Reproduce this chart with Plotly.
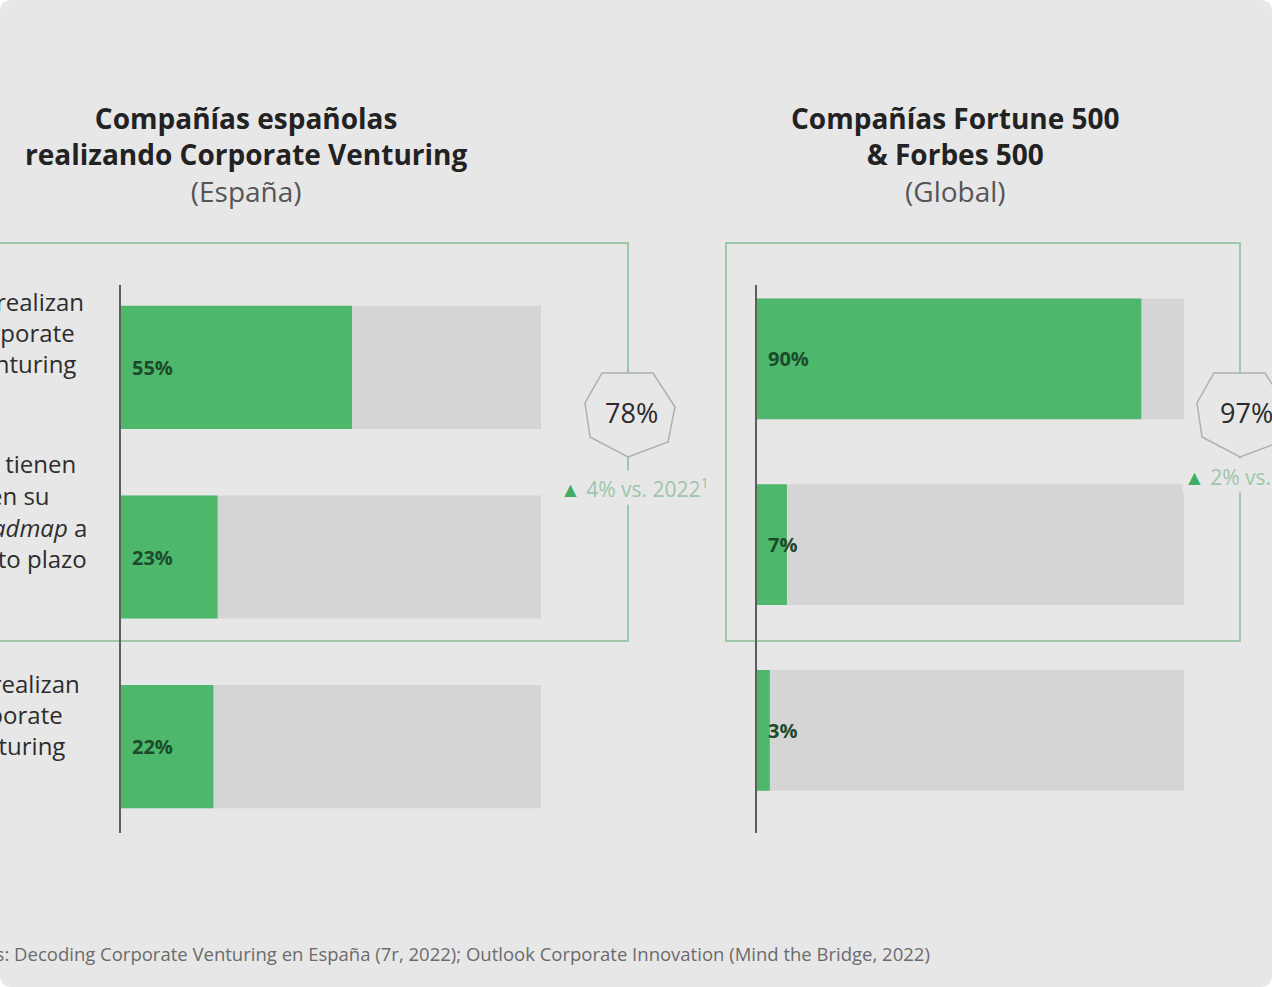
import plotly.graph_objects as go

W, H = 1272, 987

# ---------------- data ----------------
categories_es = ["Ya realizan Corporate Venturing",
                 "Lo tienen en su roadmap a corto plazo",
                 "No realizan Corporate Venturing"]
values_es = [55, 23, 22]
total_es = 78
delta_es = 4

categories_gl = ["Realizan CV", "Roadmap CV", "No realizan CV"]
values_gl = [90, 7, 3]
total_gl = 97
delta_gl = 2

full_scale = [100, 100, 100]

label_lines_es = [
    ["Ya realizan", "Corporate", "Venturing"],
    ["Lo tienen", "en su", "<i>roadmap</i> a", "corto plazo"],
    ["No realizan", "Corporate", "Venturing"],
]

title_es = ["Compañías españolas", "realizando Corporate Venturing", "(España)"]
title_gl = ["Compañías Fortune 500", "& Forbes 500", "(Global)"]
source_text = "Fuentes: Decoding Corporate Venturing en España (7r, 2022); Outlook Corporate Innovation (Mind the Bridge, 2022)"

# ---------------- style ----------------
BG = "#e7e7e7"
GREEN = "#4db86b"
GREY_BAR = "#d5d5d5"
AXIS = "#5e5e5e"
BOX = "#9fc8aa"
FONT = "Open Sans"


def px(x, y):
    return f"{x / W:.5f},{1 - y / H:.5f}"


def fx(x):
    return x / W


def fy(y):
    return 1 - y / H


fig = go.Figure()

# background bars + value bars
for cats, vals, xa, ya in [(categories_es, values_es, "x", "y"),
                           (categories_gl, values_gl, "x2", "y2")]:
    fig.add_trace(go.Bar(x=full_scale, y=cats, orientation="h", marker_color=GREY_BAR,
                         marker_line_width=0, width=0.65, xaxis=xa, yaxis=ya,
                         hoverinfo="skip", showlegend=False))
    fig.add_trace(go.Bar(x=vals, y=cats, orientation="h", marker_color=GREEN,
                         marker_line_width=0, width=0.65, xaxis=xa, yaxis=ya,
                         showlegend=False))

annotations = []
for cats, vals, xa, ya in [(categories_es, values_es, "x", "y"),
                           (categories_gl, values_gl, "x2", "y2")]:
    for c, v in zip(cats, vals):
        annotations.append(dict(x=0, y=c, xref=xa, yref=ya, xanchor="left", yanchor="middle",
                                xshift=9, text=f"<b>{v}%</b>", showarrow=False,
                                font=dict(family=FONT, size=20, color="#1d4a2a")))

# category labels (left side, partly cut by the frame as in the source image)
line_y = [[301, 332, 363], [464, 495, 527, 558], [683, 714, 745]]
line_end = [[86, 77, 78], [78, 52, 89, 89], [82, 65, 67]]
for lines, ys, ends in zip(label_lines_es, line_y, line_end):
    for t, yy, xe in zip(lines, ys, ends):
        annotations.append(dict(x=fx(xe), y=fy(yy), xref="paper", yref="paper",
                                xanchor="right", yanchor="middle", text=t, showarrow=False,
                                font=dict(family=FONT, size=24, color="#2d2d2d", weight=500)))

# titles (one block each)
for lines, cx in [(title_es, 246), (title_gl, 955)]:
    txt = (f"<b>{lines[0]}<br>{lines[1]}</b><br>"
           f"<span style='color:#555555'>{lines[2]}</span>")
    annotations.append(dict(x=fx(cx), y=fy(155), xref="paper", yref="paper",
                            xanchor="center", yanchor="middle", align="center",
                            text=txt, showarrow=False,
                            font=dict(family=FONT, size=28, color="#222222")))

# badge texts
annotations.append(dict(x=fx(631), y=fy(412), xref="paper", yref="paper", text=f"{total_es}%",
                        showarrow=False, xanchor="center", yanchor="middle",
                        font=dict(family=FONT, size=27, color="#2a2a2a")))
annotations.append(dict(x=fx(1246), y=fy(412), xref="paper", yref="paper", text=f"{total_gl}%",
                        showarrow=False, xanchor="center", yanchor="middle",
                        font=dict(family=FONT, size=27, color="#2a2a2a")))

delta_tpl = "<span style='color:#3fae62'>▲</span> {d}% vs. 2022<sup>1</sup>"
annotations.append(dict(x=fx(634), y=fy(488), xref="paper", yref="paper",
                        text=delta_tpl.format(d=delta_es), showarrow=False,
                        xanchor="center", yanchor="middle", bgcolor=BG,
                        font=dict(family=FONT, size=21, color="#9ec5aa")))
annotations.append(dict(x=fx(1182), y=fy(475), xref="paper", yref="paper",
                        text=delta_tpl.format(d=delta_gl), showarrow=False,
                        xanchor="left", yanchor="middle", bgcolor=BG,
                        font=dict(family=FONT, size=21, color="#9ec5aa")))

# source
annotations.append(dict(x=fx(932), y=fy(953), xref="paper", yref="paper", text=source_text,
                        showarrow=False, xanchor="right", yanchor="middle",
                        font=dict(family=FONT, size=18.5, color="#6b6b6b")))

# ---------------- shapes ----------------
shapes = []
r = 12
card = (f"M {px(r, 0)} L {px(W - r, 0)} Q {px(W, 0)} {px(W, r)} L {px(W, H - r)} "
        f"Q {px(W, H)} {px(W - r, H)} L {px(r, H)} Q {px(0, H)} {px(0, H - r)} "
        f"L {px(0, r)} Q {px(0, 0)} {px(r, 0)} Z")
shapes.append(dict(type="path", path=card, xref="paper", yref="paper",
                   fillcolor=BG, line=dict(width=0), layer="below"))

for x0, x1 in [(-10, 628), (726, 1240)]:
    shapes.append(dict(type="rect", xref="paper", yref="paper",
                       x0=fx(x0), x1=fx(x1), y0=fy(641), y1=fy(243),
                       line=dict(color=BOX, width=2), fillcolor="rgba(0,0,0,0)", layer="below"))

badge = [(-28, -39), (23, -39), (45, -5), (38, 30), (-2, 45), (-40, 25), (-45, -9)]
for cx, cy in [(630, 412), (1242, 412)]:
    pts = [px(cx + dx, cy + dy) for dx, dy in badge]
    path = "M " + " L ".join(pts) + " Z"
    shapes.append(dict(type="path", path=path, xref="paper", yref="paper",
                       fillcolor=BG, line=dict(color="#a9b3ac", width=1.5), layer="above"))

fig.update_layout(
    width=W, height=H,
    margin=dict(l=0, r=0, t=0, b=0),
    paper_bgcolor="white",
    plot_bgcolor="rgba(0,0,0,0)",
    barmode="overlay",
    showlegend=False,
    xaxis=dict(domain=[fx(121), fx(541)], range=[0, 100], visible=False, fixedrange=True),
    yaxis=dict(domain=[fy(833), fy(285)], type="category", categoryorder="array",
               categoryarray=categories_es, range=[2.456, -0.435],
               showticklabels=False, showgrid=False, zeroline=False,
               showline=True, linecolor=AXIS, linewidth=2, ticks=""),
    xaxis2=dict(domain=[fx(757), fx(1184)], range=[0, 100], visible=False, anchor="y2"),
    yaxis2=dict(domain=[fy(833), fy(285)], type="category", categoryorder="array",
                categoryarray=categories_gl, range=[2.552, -0.398], anchor="x2",
                showticklabels=False, showgrid=False, zeroline=False,
                showline=True, linecolor=AXIS, linewidth=2, ticks=""),
    annotations=annotations,
    shapes=shapes,
)

fig.write_html("out.html", config={"displayModeBar": False},
               post_script="document.body.style.margin='0';document.body.style.overflow='hidden';")
